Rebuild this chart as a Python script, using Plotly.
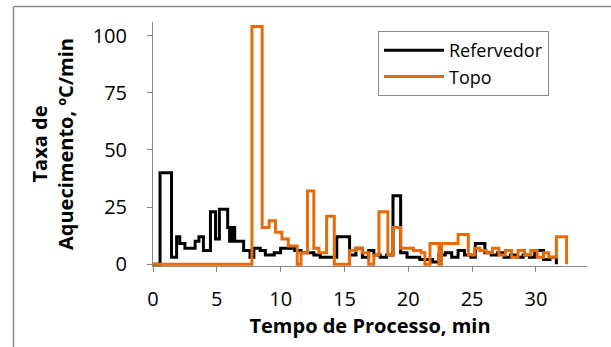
import plotly.graph_objects as go

# Refervedor (black) step series: start time of each step (min) and its rate (ºC/min)
t_ref = [0, 0.55, 1.45, 1.85, 2.1, 2.5, 3.3, 3.6, 3.95, 4.5, 4.9, 5.2, 5.85, 6.0, 6.2, 6.4, 6.6, 7.1, 7.6, 7.9,
         8.4, 8.8, 9.5, 10.0, 10.6, 11.1, 11.6, 12.1, 12.6, 13.1, 13.6, 14.4, 15.4, 15.9, 16.4, 16.9,
         17.3, 17.8, 18.3, 18.8, 19.4, 19.9, 20.4, 20.9, 21.4, 21.9, 22.4, 22.9, 23.4, 23.9, 24.4,
         24.9, 25.25, 26.0, 26.5, 27.0, 27.5, 28.0, 28.5, 29.0, 29.5, 29.9, 30.6, 31.1, 31.6]
v_ref = [0, 40, 3, 12, 9, 7, 10, 12, 6, 23, 11, 24, 16, 10, 16, 10, 10, 6, 3, 7,
         6, 4, 5, 7, 7, 6, 5, 5, 4, 3, 3, 12, 4, 7, 3, 6,
         4, 3, 4, 30, 5, 3, 3, 2, 2, 1, 4, 5, 3, 6, 4,
         3, 9, 5, 4, 5, 3, 4, 3, 4, 3, 6, 2, 3, 0]

# Topo (orange) step series
t_top = [0, 7.75, 8.55, 9.1, 9.6, 10.1, 10.6, 11.3, 11.6, 12.1, 12.6, 13.0, 13.6, 14.2, 15.4, 15.9,
         16.4, 16.9, 17.3, 17.7, 18.4, 18.8, 19.4, 19.9, 20.4, 21.0, 21.3, 21.7, 22.4, 22.6, 23.3,
         23.9, 24.7, 25.2, 25.6, 26.1, 26.6, 27.1, 27.6, 28.1, 28.6, 29.1, 29.6, 30.1, 30.6, 31.0,
         31.6, 32.4]
v_top = [0, 104, 16, 19, 14, 11, 8, 0, 5, 32, 7, 5, 21, 0, 6, 7,
         5, 0, 4, 23, 4, 16, 7, 7, 6, 5, 0, 9, 0, 9, 9,
         13, 4, 7, 6, 5, 7, 4, 6, 3, 6, 4, 6, 3, 5, 3,
         12, 0]

series_names = ["Refervedor", "Topo"]
x_ticks = [0, 5, 10, 15, 20, 25, 30]
y_ticks = [0, 25, 50, 75, 100]

FONT = "Open Sans"
GRAY = "#868686"
L, R, T, B = 153, 24, 22, 81
PW, PH = 611 - L - R, 347 - T - B

fig = go.Figure()
fig.add_trace(go.Scatter(x=t_ref, y=v_ref, mode="lines", line_shape="hv", name=series_names[0],
                         line=dict(color="#000000", width=3)))
fig.add_trace(go.Scatter(x=t_top, y=v_top, mode="lines", line_shape="hv", name=series_names[1],
                         line=dict(color="#E46C0A", width=3)))

fig.update_layout(
    width=611, height=347,
    margin=dict(l=L, r=R, t=T, b=B, autoexpand=False),
    paper_bgcolor="white", plot_bgcolor="white",
    font=dict(family=FONT, color="#000000"),
    showlegend=True,
    legend=dict(x=(378 - L) / PW, y=1 - (31 - T) / PH, xanchor="left", yanchor="top",
                font=dict(family=FONT, size=18, color="#000"),
                bordercolor="#8c8c8c", borderwidth=1, bgcolor="white",
                tracegroupgap=0, itemwidth=60),
)

fig.update_xaxes(range=[0, 34], tickvals=x_ticks, ticktext=[str(v) for v in x_ticks], automargin=False,
                 showgrid=False, zeroline=False, showline=True, linecolor=GRAY, linewidth=1,
                 ticks="outside", ticklen=5, tickcolor=GRAY, tickfont=dict(size=20, family=FONT),
                 ticklabelstandoff=10,
                 title=dict(text="<b>Tempo de Processo, min</b>", font=dict(size=20, family=FONT), standoff=2))
fig.update_yaxes(range=[-0.8, 106], tickvals=y_ticks, ticktext=[str(v) for v in y_ticks], automargin=False,
                 showgrid=False, zeroline=False, showline=True, linecolor=GRAY, linewidth=1,
                 ticks="outside", ticklen=5, tickcolor=GRAY, tickfont=dict(size=20, family=FONT),
                 ticklabelstandoff=16,
                 title=dict(text="<b>Taxa de<br>Aquecimento, ºC/min</b>", font=dict(size=20, family=FONT), standoff=13))

# outer chart frame (left and top edges visible)
fx = -(L - 13.5) / PW
fy = 1 + (T - 6.5) / PH
fig.add_shape(type="line", xref="paper", yref="paper", x0=fx, x1=fx, y0=fy, y1=-(B + 5) / PH,
              line=dict(color="#8c8c8c", width=1.5))
fig.add_shape(type="line", xref="paper", yref="paper", x0=fx, x1=1 + (R + 5) / PW, y0=fy, y1=fy,
              line=dict(color="#8c8c8c", width=1.5))

fig.write_html("out.html", config={"displayModeBar": False},
               post_script="document.body.style.margin='0';")
